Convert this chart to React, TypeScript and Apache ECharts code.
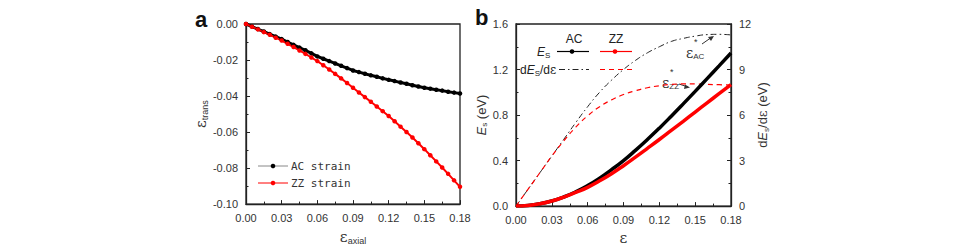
import React, { useEffect, useRef } from "react";
import * as echarts from "echarts";

// Panel a: transverse strain vs axial strain
const strainA = [0, 0.005, 0.01, 0.015, 0.02, 0.025, 0.03, 0.035, 0.04, 0.045, 0.05, 0.055, 0.06, 0.065, 0.07, 0.075, 0.08, 0.085, 0.09, 0.095, 0.1, 0.105, 0.11, 0.115, 0.12, 0.125, 0.13, 0.135, 0.14, 0.145, 0.15, 0.155, 0.16, 0.165, 0.17, 0.175, 0.18];
const acTrans = [0, -0.0014, -0.0028, -0.0042, -0.0056, -0.007, -0.0084, -0.01, -0.0116, -0.0131, -0.0146, -0.0163, -0.018, -0.0193, -0.0206, -0.0219, -0.0232, -0.0245, -0.0258, -0.0267, -0.0276, -0.0285, -0.0293, -0.0302, -0.031, -0.0317, -0.0325, -0.0332, -0.034, -0.0347, -0.0354, -0.0359, -0.0365, -0.037, -0.0376, -0.0381, -0.0386];
const zzTrans = [0, -0.0015, -0.003, -0.0045, -0.006, -0.0076, -0.0092, -0.011, -0.0128, -0.0147, -0.0166, -0.0186, -0.0206, -0.0229, -0.0253, -0.0277, -0.0302, -0.0328, -0.0354, -0.038, -0.0406, -0.0432, -0.0458, -0.0484, -0.0511, -0.054, -0.057, -0.06, -0.063, -0.0662, -0.0695, -0.0729, -0.0763, -0.0797, -0.0832, -0.0868, -0.0904];

// Panel b: strain energy and its derivative
const strainB = [0, 0.01, 0.02, 0.03, 0.04, 0.05, 0.06, 0.07, 0.08, 0.09, 0.1, 0.11, 0.12, 0.13, 0.14, 0.15, 0.16, 0.17, 0.18];
const esAC = [0, 0.005, 0.02, 0.045, 0.08, 0.125, 0.18, 0.245, 0.32, 0.4, 0.49, 0.585, 0.685, 0.79, 0.898, 1.008, 1.12, 1.232, 1.345];
const esZZ = [0, 0.005, 0.02, 0.045, 0.079, 0.12, 0.165, 0.222, 0.285, 0.355, 0.43, 0.507, 0.585, 0.665, 0.745, 0.826, 0.907, 0.988, 1.068];
const dEsAC = [0, 1.1, 2.2, 3.3, 4.4, 5.5, 6.55, 7.5, 8.3, 9.0, 9.6, 10.1, 10.5, 10.85, 11.05, 11.2, 11.3, 11.32, 11.28];
const dEsZZ = [0, 1.1, 2.2, 3.3, 4.3, 5.2, 5.95, 6.55, 7.0, 7.35, 7.6, 7.8, 7.93, 8.02, 8.05, 8.05, 8.02, 8.0, 7.97];

const legendA = ["AC strain", "ZZ strain"];
const legendB = ["AC", "ZZ"];

const BLACK = "#000000";
const RED = "#ff0000";
const AXIS = "#222222";
const FONT = "Liberation Sans, Arial, sans-serif";

function pairs(xs: number[], ys: number[]) {
  return xs.map((x, i) => [x, ys[i]]);
}

const axisBase = (digits: number) => ({
  axisLine: { show: true, onZero: false, lineStyle: { color: AXIS, width: 1.3 } },
  axisTick: { show: true, inside: true, length: 4, lineStyle: { color: AXIS, width: 1 } },
  minorTick: { show: true, splitNumber: 2, length: 2.5, lineStyle: { color: AXIS, width: 1 } },
  splitLine: { show: false },
  minorSplitLine: { show: false },
  axisLabel: {
    color: "#333",
    fontSize: 11,
    fontFamily: FONT,
    formatter: (v: number) => v.toFixed(digits),
  },
});

export default function App() {
  const ref = useRef<HTMLDivElement>(null);
  useEffect(() => {
    if (!ref.current) return;
    const chart = echarts.init(ref.current, undefined, { renderer: "svg" });
    const epsRich = {
      e: { fontSize: 15, fontFamily: "DejaVu Serif, serif", color: "#333", lineHeight: 18 },
      s: { fontSize: 9, fontFamily: FONT, color: "#333", padding: [8, 0, 0, 0], lineHeight: 18 },
      i: { fontSize: 13, fontFamily: FONT, fontStyle: "italic", color: "#333", lineHeight: 18 },
      t: { fontSize: 13, fontFamily: FONT, color: "#333", lineHeight: 18 },
      ss: { fontSize: 8, fontFamily: FONT, color: "#333", padding: [7, 0, 0, 0], lineHeight: 18 },
      ep: { fontSize: 13, fontFamily: "DejaVu Serif, serif", color: "#333", lineHeight: 18 },
    };
    const option: any = {
      animation: false,
      grid: [
        { left: 246, top: 24, width: 214, height: 191, show: true, borderColor: AXIS, borderWidth: 1.3, backgroundColor: "transparent" },
        { left: 516, top: 24, width: 215, height: 191, show: true, borderColor: AXIS, borderWidth: 1.3, backgroundColor: "transparent" },
      ],
      xAxis: [
        {
          type: "value", gridIndex: 0, min: 0, max: 0.18, interval: 0.03,
          ...axisBase(2),
          name: "{e|ε}{s|axial}", nameLocation: "middle", nameGap: 17,
          nameTextStyle: { rich: epsRich },
        },
        {
          type: "value", gridIndex: 1, min: 0, max: 0.18, interval: 0.03,
          ...axisBase(2),
          name: "{e|ε}", nameLocation: "middle", nameGap: 17,
          nameTextStyle: { rich: epsRich },
        },
      ],
      yAxis: [
        {
          type: "value", gridIndex: 0, min: -0.1, max: 0, interval: 0.02,
          ...axisBase(2),
          name: "{e|ε}{s|trans}", nameLocation: "middle", nameGap: 33, nameRotate: 90,
          nameTextStyle: { rich: epsRich },
        },
        {
          type: "value", gridIndex: 1, min: 0, max: 1.6, interval: 0.4, position: "left",
          ...axisBase(1),
          name: "{i|E}{ss|s}{t| (eV)}", nameLocation: "middle", nameGap: 22, nameRotate: 90,
          nameTextStyle: { rich: epsRich },
        },
        {
          type: "value", gridIndex: 1, min: 0, max: 12, interval: 3, position: "right",
          ...axisBase(0),
          name: "{t|d}{i|E}{ss|s}{t|/d}{ep|ε}{t| (eV)}", nameLocation: "middle", nameGap: 18, nameRotate: 90,
          nameTextStyle: { rich: epsRich },
        },
      ],
      series: [
        {
          name: legendA[0], type: "line", xAxisIndex: 0, yAxisIndex: 0,
          data: pairs(strainA, acTrans), symbol: "circle", symbolSize: 4.5,
          lineStyle: { color: BLACK, width: 3 }, itemStyle: { color: BLACK },
        },
        {
          name: legendA[1], type: "line", xAxisIndex: 0, yAxisIndex: 0,
          data: pairs(strainA, zzTrans), symbol: "circle", symbolSize: 4.5,
          lineStyle: { color: RED, width: 2 }, itemStyle: { color: RED },
        },
        {
          name: "dEs AC", type: "line", xAxisIndex: 1, yAxisIndex: 2, smooth: true,
          data: pairs(strainB, dEsAC), symbol: "none",
          lineStyle: { color: "#222", width: 1, type: [6, 3, 1.5, 3] },
        },
        {
          name: "dEs ZZ", type: "line", xAxisIndex: 1, yAxisIndex: 2, smooth: true,
          data: pairs(strainB, dEsZZ), symbol: "none",
          lineStyle: { color: RED, width: 1.2, type: [5, 4] },
        },
        {
          name: "Es AC", type: "line", xAxisIndex: 1, yAxisIndex: 1, smooth: true,
          data: pairs(strainB, esAC), symbol: "none",
          lineStyle: { color: BLACK, width: 3.5 },
        },
        {
          name: "Es ZZ", type: "line", xAxisIndex: 1, yAxisIndex: 1, smooth: true,
          data: pairs(strainB, esZZ), symbol: "none",
          lineStyle: { color: RED, width: 3.5 },
        },
      ],
      graphic: [
        // panel labels
        { type: "text", left: 195, top: 8, style: { text: "a", font: `bold 22px ${FONT}`, fill: "#111" } },
        { type: "text", left: 475, top: 6, style: { text: "b", font: `bold 22px ${FONT}`, fill: "#111" } },
        // legend a
        { type: "line", shape: { x1: 258, y1: 166, x2: 288, y2: 166 }, style: { stroke: "#888", lineWidth: 1 } },
        { type: "circle", shape: { cx: 273, cy: 166, r: 2.3 }, style: { fill: BLACK } },
        { type: "text", x: 291, y: 166, style: { text: legendA[0], font: "11px DejaVu Sans Mono, monospace", fill: "#333", textVerticalAlign: "middle" } },
        { type: "line", shape: { x1: 258, y1: 183, x2: 288, y2: 183 }, style: { stroke: RED, lineWidth: 1 } },
        { type: "circle", shape: { cx: 273, cy: 183, r: 2.3 }, style: { fill: RED } },
        { type: "text", x: 291, y: 183, style: { text: legendA[1], font: "11px DejaVu Sans Mono, monospace", fill: "#333", textVerticalAlign: "middle" } },
        // legend b
        { type: "text", x: 574, y: 39, style: { text: legendB[0], font: `12px ${FONT}`, fill: "#222", textAlign: "center", textVerticalAlign: "middle" } },
        { type: "text", x: 616, y: 39, style: { text: legendB[1], font: `12px ${FONT}`, fill: "#222", textAlign: "center", textVerticalAlign: "middle" } },
        { type: "text", x: 537, y: 52, style: { text: "{i|E}{ss|S}", fill: "#222", textVerticalAlign: "middle", rich: { i: { font: `italic 12px ${FONT}`, fill: "#222" }, ss: { font: `8px ${FONT}`, fill: "#222", padding: [6, 0, 0, 0] } } } },
        { type: "line", shape: { x1: 557, y1: 51.5, x2: 589, y2: 51.5 }, style: { stroke: BLACK, lineWidth: 1.2 } },
        { type: "circle", shape: { cx: 572, cy: 51.5, r: 2.3 }, style: { fill: BLACK } },
        { type: "line", shape: { x1: 600, y1: 51.5, x2: 632, y2: 51.5 }, style: { stroke: RED, lineWidth: 1.2 } },
        { type: "circle", shape: { cx: 615, cy: 51.5, r: 2.3 }, style: { fill: RED } },
        { type: "text", x: 520, y: 70, style: { text: "{t|d}{i|E}{ss|S}{t|/d}{e|ε}", fill: "#222", textVerticalAlign: "middle", rich: { t: { font: `12px ${FONT}`, fill: "#222" }, i: { font: `italic 12px ${FONT}`, fill: "#222" }, ss: { font: `8px ${FONT}`, fill: "#222", padding: [6, 0, 0, 0] }, e: { font: "12px DejaVu Serif, serif", fill: "#222" } } } },
        { type: "line", shape: { x1: 559, y1: 69.5, x2: 589, y2: 69.5 }, style: { stroke: "#222", lineWidth: 1, lineDash: [6, 3, 1.5, 3] } },
        { type: "line", shape: { x1: 600, y1: 69.5, x2: 632, y2: 69.5 }, style: { stroke: RED, lineWidth: 1.2, lineDash: [5, 4] } },
        // annotations
        { type: "text", x: 686, y: 53, style: { text: "{e|ε}{s|AC}", fill: "#333", textVerticalAlign: "middle", rich: { e: { font: "14px DejaVu Serif, serif", fill: "#333" }, s: { font: `8px ${FONT}`, fill: "#333", padding: [7, 0, 0, 0] } } } },
        { type: "text", x: 694, y: 42, style: { text: "*", font: `9px ${FONT}`, fill: "#333", textVerticalAlign: "middle" } },
        { type: "line", shape: { x1: 702, y1: 44, x2: 712, y2: 37 }, style: { stroke: "#333", lineWidth: 1 } },
        { type: "polygon", shape: { points: [[714, 36], [708, 37], [711, 41]] }, style: { fill: "#333" } },
        { type: "text", x: 662, y: 83, style: { text: "{e|ε}{s|ZZ}", fill: "#333", textVerticalAlign: "middle", rich: { e: { font: "14px DejaVu Serif, serif", fill: "#333" }, s: { font: `8px ${FONT}`, fill: "#333", padding: [7, 0, 0, 0] } } } },
        { type: "text", x: 670, y: 72, style: { text: "*", font: `9px ${FONT}`, fill: "#333", textVerticalAlign: "middle" } },
        { type: "line", shape: { x1: 679, y1: 84, x2: 688, y2: 87 }, style: { stroke: "#333", lineWidth: 1 } },
        { type: "polygon", shape: { points: [[690, 87.5], [685, 84.5], [684, 89]] }, style: { fill: "#333" } },
      ],
    };
    chart.setOption(option);
    return () => chart.dispose();
  }, []);
  return (
    <div
      ref={ref}
      style={{ position: "absolute", left: 0, top: 0, width: 961, height: 250, background: "#fff" }}
    />
  );
}
